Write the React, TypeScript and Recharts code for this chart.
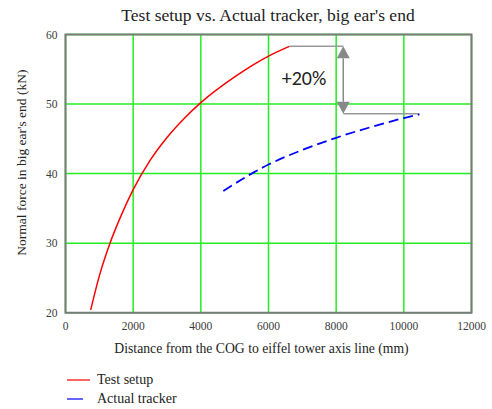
import React from "react";
import { LineChart, Line, XAxis, YAxis, CartesianGrid, ReferenceLine, ReferenceArea, ReferenceDot } from "recharts";

const testX = [745, 1000, 1315, 1611, 2000, 2500, 3000, 3500, 4000, 5000, 6000, 6615];
const testY = [20.4, 25.3, 30.0, 33.6, 37.7, 41.9, 45.2, 47.9, 50.2, 53.9, 56.9, 58.3];
const actualX = [4665, 5500, 6000, 7000, 8000, 9000, 10000, 10460];
const actualY = [37.5, 40.0, 41.3, 43.4, 45.15, 46.65, 47.98, 48.5];
const xTicks = [0, 2000, 4000, 6000, 8000, 10000, 12000];
const yTicks = [20, 30, 40, 50, 60];
const seriesNames = ["Test setup", "Actual tracker"];
const seriesColors = ["#ff0000", "#0000ff"];
const title = "Test setup vs. Actual tracker, big ear's end";
const xLabel = "Distance from the COG to eiffel tower axis line (mm)";
const yLabel = "Normal force in big ear's end (kN)";
const arrowX = 8210;
const arrowTop = 58.3;
const arrowBottom = 48.6;
const noteText = "+20%";
const noteX = 7050;
const noteY = 53.7;

const testData = testX.map((x, i) => ({ x, y: testY[i] }));
const actualData = actualX.map((x, i) => ({ x, y: actualY[i] }));

const serif = "'Liberation Serif', 'Times New Roman', serif";

const ArrowShape = (props: any) => {
  const { x1, y1, x2, y2 } = props;
  const top = Math.min(y1, y2);
  const bot = Math.max(y1, y2);
  const hw = 6.5;
  const hh = 12;
  return (
    <g>
      <line x1={x1} y1={top + hh} x2={x2} y2={bot - hh} stroke="#888" strokeWidth={1.5} />
      <polygon points={`${x1},${top} ${x1 - hw},${top + hh} ${x1 + hw},${top + hh}`} fill="#888" />
      <polygon points={`${x1},${bot} ${x1 - hw},${bot - hh} ${x1 + hw},${bot - hh}`} fill="#888" />
    </g>
  );
};

const XLabelContent = (props: any) => {
  const vb = props.viewBox || {};
  return (
    <text x={vb.x + vb.width / 2 - 7} y={vb.y + 40} textAnchor="middle" fontFamily={serif} fontSize={13.7} fill="#222">
      {xLabel}
    </text>
  );
};

const YLabelContent = (props: any) => {
  const vb = props.viewBox || {};
  const cx = vb.x + 10;
  const cy = vb.y + vb.height / 2 - 11;
  return (
    <text x={cx} y={cy} transform={`rotate(-90 ${cx} ${cy})`} textAnchor="middle" dominantBaseline="central" fontFamily={serif} fontSize={13.5} fill="#222">
      {yLabel}
    </text>
  );
};

export default function App() {
  return (
    <div style={{ position: "absolute", left: 0, top: 0, width: 492, height: 409, background: "#fff" }}>
      <div style={{ position: "absolute", left: 0, width: 536, top: 4, textAlign: "center", fontFamily: serif, fontSize: 17.5, color: "#222", lineHeight: "22px" }}>
        {title}
      </div>
      <LineChart width={492} height={409} margin={{ top: 34.5, right: 20.5, bottom: 46.3, left: 12 }}>
        <CartesianGrid stroke="#22ee22" strokeWidth={1.5} horizontal vertical />
        <XAxis
          type="number"
          dataKey="x"
          domain={[0, 12000]}
          ticks={xTicks}
          allowDataOverflow
          height={50}
          tickLine={false}
          axisLine={false}
          tickMargin={3}
          tick={{ fontFamily: serif, fontSize: 11.5, fill: "#3a3a3a" }}
          label={{ content: XLabelContent }}
        />
        <YAxis
          type="number"
          dataKey="y"
          domain={[20, 60]}
          ticks={yTicks}
          allowDataOverflow
          width={53.5}
          tickLine={false}
          axisLine={false}
          tickMargin={2}
          tick={{ fontFamily: serif, fontSize: 11.5, fill: "#3a3a3a" }}
          label={{ content: YLabelContent }}
        />
        <ReferenceArea x1={0} x2={12000} y1={20} y2={60} fill="none" stroke="#7a7a7a" strokeWidth={2} fillOpacity={0} />
        <ReferenceLine segment={[{ x: testX[testX.length - 1], y: arrowTop }, { x: arrowX, y: arrowTop }]} stroke="#999" strokeWidth={1.5} />
        <ReferenceLine segment={[{ x: arrowX, y: arrowBottom }, { x: actualX[actualX.length - 1], y: arrowBottom }]} stroke="#999" strokeWidth={1.5} />
        <ReferenceLine segment={[{ x: arrowX, y: arrowTop }, { x: arrowX, y: arrowBottom }]} shape={ArrowShape} />
        <ReferenceDot
          x={noteX}
          y={noteY}
          r={0}
          fill="none"
          stroke="none"
          label={{ value: noteText, position: "center", fontFamily: "Carlito, 'Open Sans', 'DejaVu Sans', sans-serif", fontSize: 20, fill: "#222" }}
        />
        <Line data={testData} dataKey="y" type="monotone" stroke={seriesColors[0]} strokeWidth={1.5} dot={false} isAnimationActive={false} name={seriesNames[0]} />
        <Line data={actualData} dataKey="y" type="monotone" stroke={seriesColors[1]} strokeWidth={1.8} strokeDasharray="10 5" dot={false} isAnimationActive={false} name={seriesNames[1]} />
      </LineChart>
      <div style={{ position: "absolute", left: 67, top: 370, fontFamily: serif, fontSize: 14, color: "#222" }}>
        {seriesNames.map((n, i) => (
          <div key={n} style={{ display: "flex", alignItems: "center", height: 19 }}>
            <svg width={30} height={10}>
              <line x1={0} y1={5} x2={23} y2={5} stroke={seriesColors[i]} strokeWidth={2} strokeOpacity={0.6} strokeDasharray={i === 1 ? "16 8" : undefined} />
            </svg>
            <span>{n}</span>
          </div>
        ))}
      </div>
    </div>
  );
}
